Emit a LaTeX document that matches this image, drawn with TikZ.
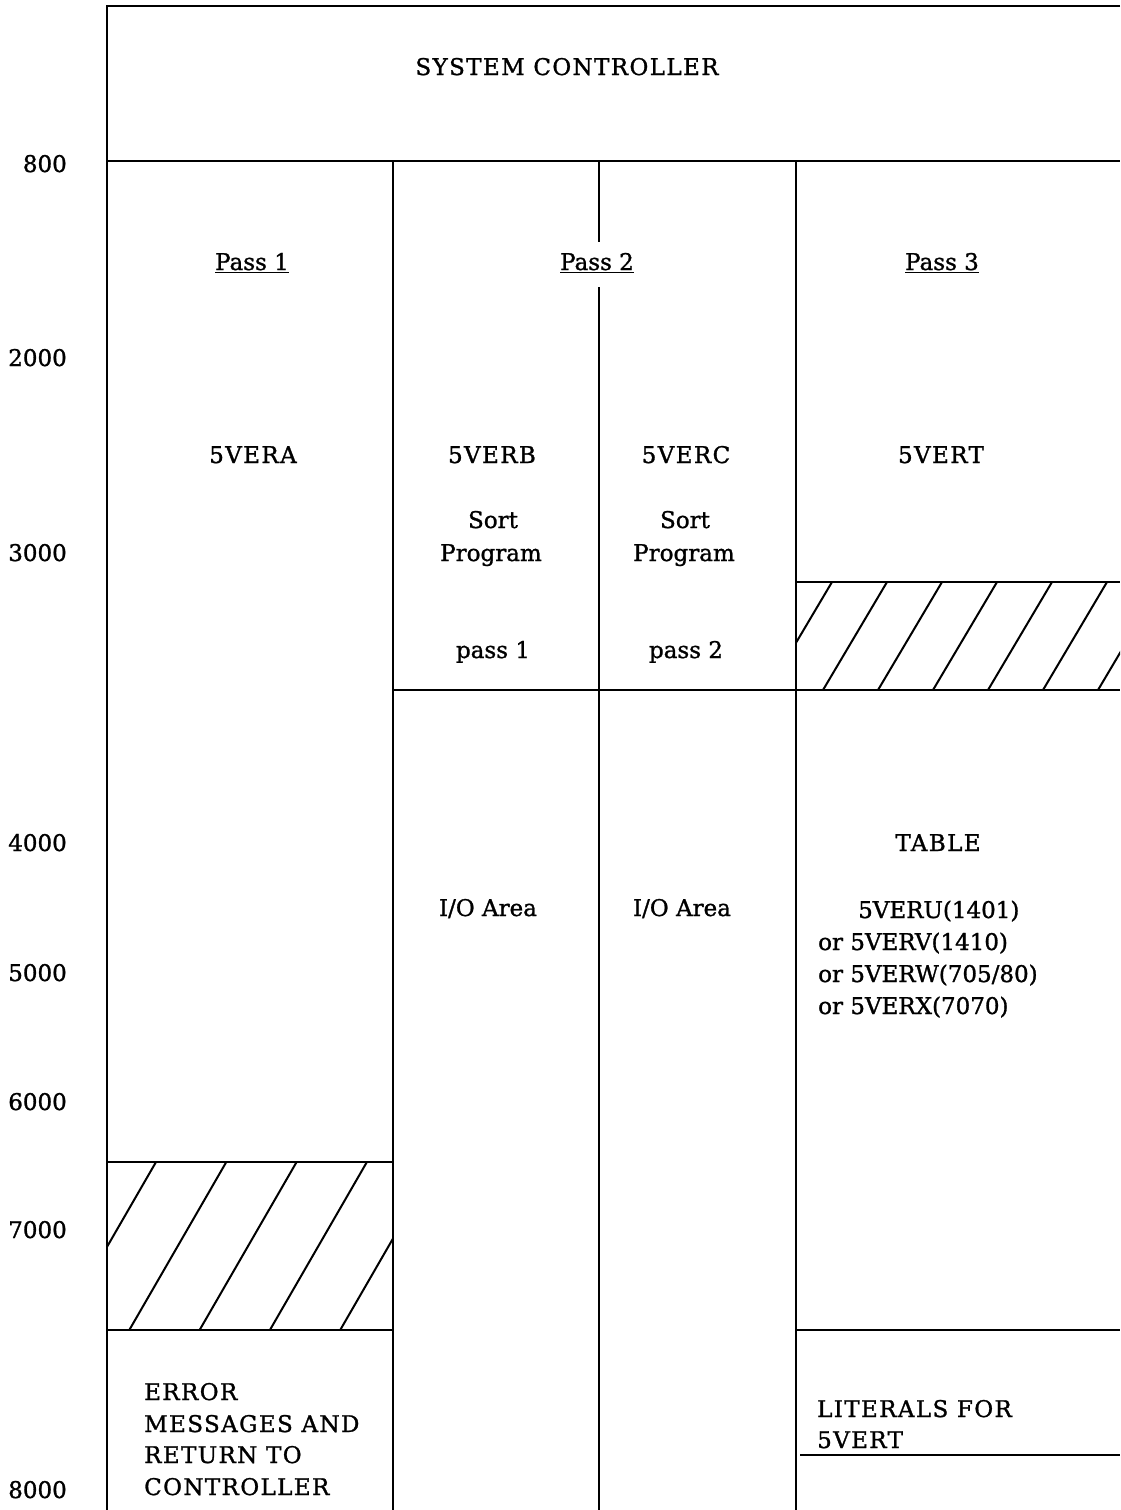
\documentclass[tikz,border=0pt]{standalone}
\usepackage{fontspec}
\setmainfont{DejaVu Serif}[FakeBold=1.2]
\newfontfamily\capsfont{DejaVu Serif}[FakeBold=1.2,LetterSpace=6]
\begin{document}
\begin{tikzpicture}[x=1pt,y=-1pt,line width=2.4pt,
  txt/.style={font=\fontsize{23}{30}\selectfont, inner sep=0pt, anchor=base},
  ctxt/.style={txt, font=\fontsize{23}{30}\capsfont},
  ltxt/.style={txt, anchor=base west},
  lctxt/.style={ctxt, anchor=base west},
  rtxt/.style={txt, anchor=base east},
  hatch/.style={line width=2pt}]
\useasboundingbox (0,0) rectangle (1120,1510);
% frame
\draw (1120,6) -- (107,6) -- (107,1510);
\draw (107,161) -- (1120,161);
\draw (393,161) -- (393,1510);
\draw (599,161) -- (599,242);
\draw (599,287) -- (599,1510);
\draw (796,161) -- (796,1510);
\draw (393,690) -- (1120,690);
\draw (796,582) -- (1120,582);
\draw (107,1162) -- (393,1162);
\draw (107,1330) -- (393,1330);
\draw (796,1330) -- (1120,1330);
\draw (800,1455) -- (1120,1455);
% hatching pass 3
\begin{scope}
  \clip (796,582) rectangle (1120,690);
  \foreach \t in {0,...,6}{
    \draw[hatch] (832+55*\t,582) -- ++(-64,108);
  }
\end{scope}
% hatching pass 1
\begin{scope}
  \clip (107,1162) rectangle (393,1330);
  \foreach \t in {0,...,4}{
    \draw[hatch] (156+70.3*\t,1162) -- ++(-97,168);
  }
\end{scope}
% addresses
\node[rtxt] (a800) at (68,172) {800};
\node[rtxt] (a2000) at (68,366) {2000};
\node[rtxt] (a3000) at (68,561) {3000};
\node[rtxt] (a4000) at (68,851) {4000};
\node[rtxt] (a5000) at (68,981) {5000};
\node[rtxt] (a6000) at (68,1110) {6000};
\node[rtxt] (a7000) at (68,1238) {7000};
\node[rtxt] (a8000) at (68,1498) {8000};
% titles
\node[ctxt] (sc) at (567,75) {SYSTEM CONTROLLER};
\node[txt] (p1) at (252,270) {\underline{Pass 1}};
\node[txt] (p2) at (597,270) {\underline{Pass 2}};
\node[txt] (p3) at (942,270) {\underline{Pass 3}};
\node[ctxt] (vera) at (253,463) {5VERA};
\node[ctxt] (verb) at (492,463) {5VERB};
\node[ctxt] (verc) at (686,463) {5VERC};
\node[ctxt] (vert) at (941,463) {5VERT};
\node[txt] (sort1) at (493,528) {Sort};
\node[txt] (prog1) at (491,561) {Program};
\node[txt] (sort2) at (685,528) {Sort};
\node[txt] (prog2) at (684,561) {Program};
\node[txt] (ps1) at (493,658) {pass 1};
\node[txt] (ps2) at (686,658) {pass 2};
\node[ctxt] (table) at (938,851) {TABLE};
\node[txt] (io1) at (488,916) {I/O Area};
\node[txt] (io2) at (682,916) {I/O Area};
\node[ltxt] (t1) at (857,918) {5VERU(1401)};
\node[ltxt] (t2) at (817,950) {or 5VERV(1410)};
\node[ltxt] (t3) at (817,982) {or 5VERW(705/80)};
\node[ltxt] (t4) at (817,1014) {or 5VERX(7070)};
\node[lctxt] (e1) at (143,1400) {ERROR};
\node[lctxt] (e2) at (143,1432) {MESSAGES AND};
\node[lctxt] (e3) at (143,1463) {RETURN TO};
\node[lctxt] (e4) at (143,1495) {CONTROLLER};
\node[lctxt] (l1) at (816,1417) {LITERALS FOR};
\node[lctxt] (l2) at (816,1448) {5VERT};
\end{tikzpicture}
\end{document}
